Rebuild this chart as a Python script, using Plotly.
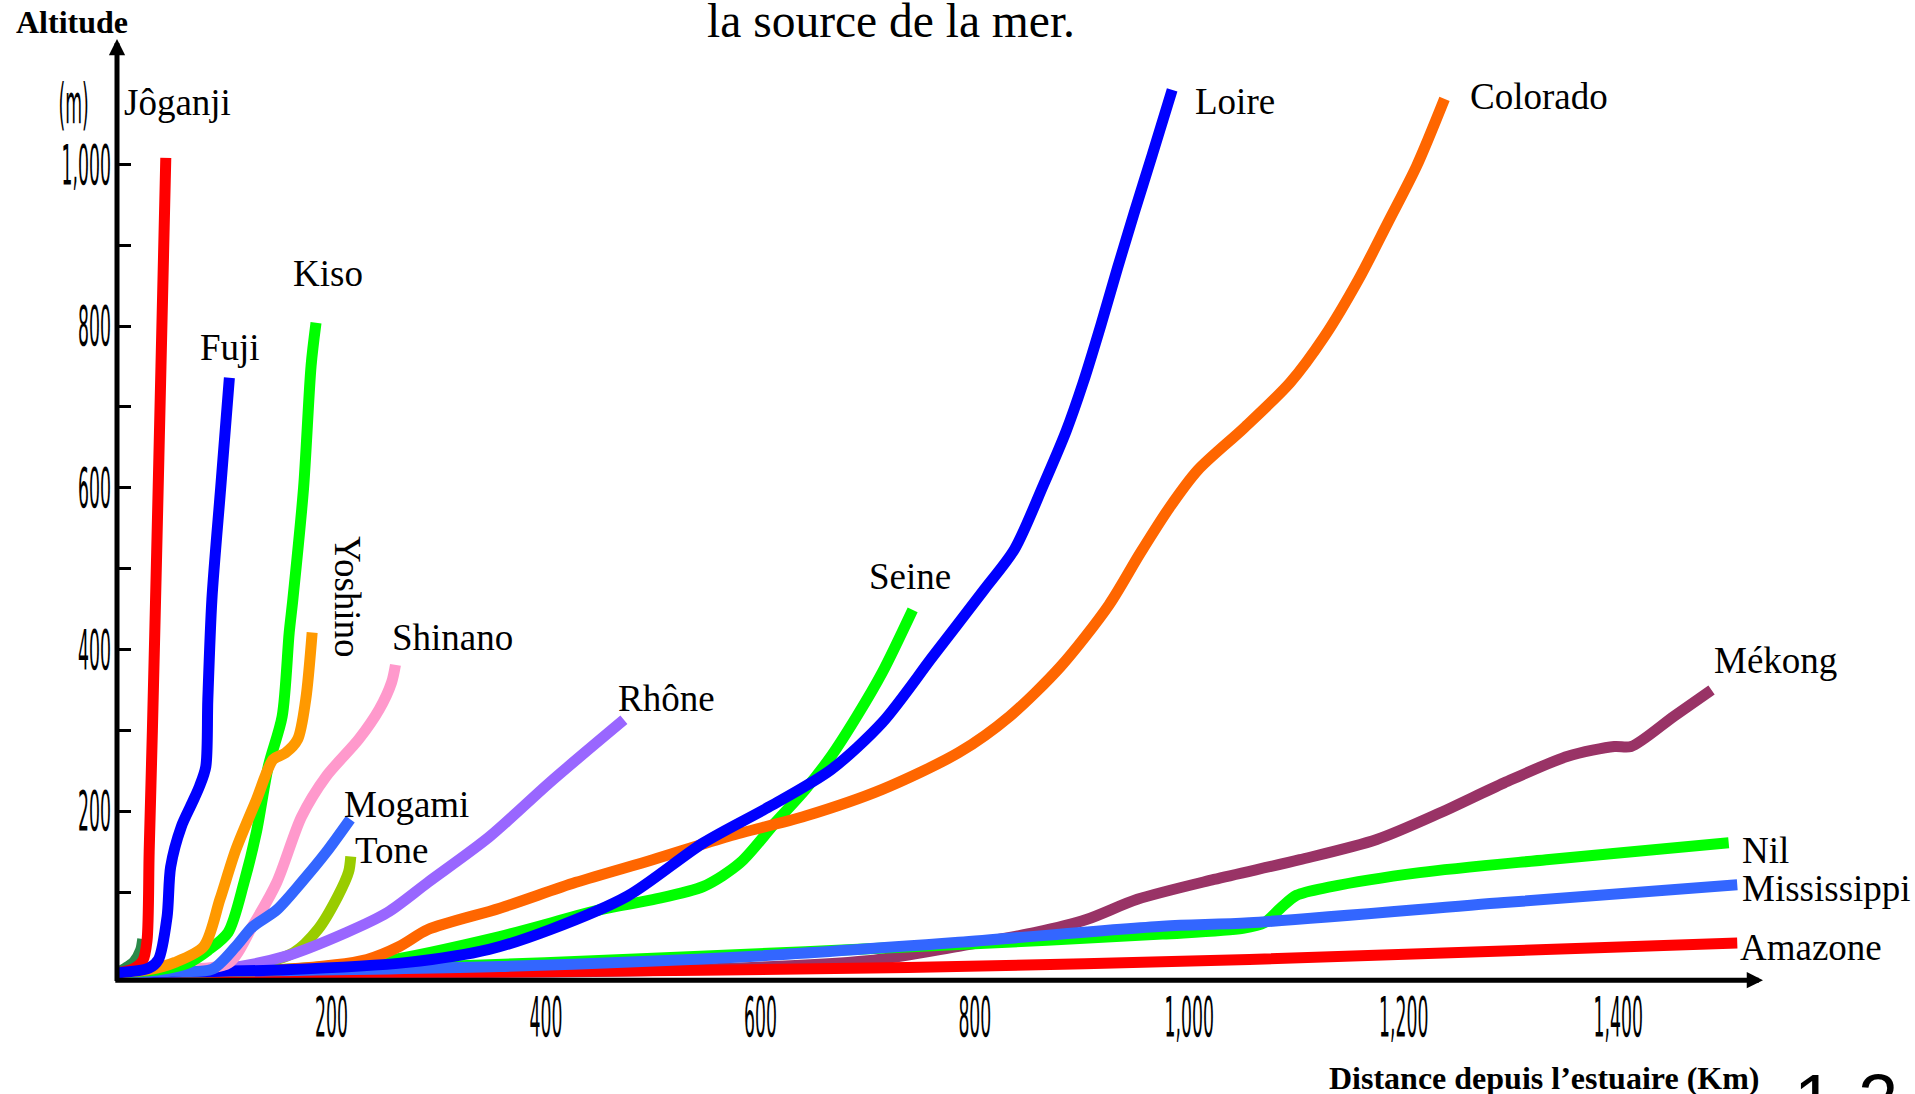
import plotly.graph_objects as go

# ── données : distance depuis l'estuaire (km) / altitude (m) ─────────────────
JOGANJI_KM = [0, 15, 24, 28, 30, 33, 37, 41, 45.5]
JOGANJI_M = [0, 5, 15, 40, 150, 300, 520, 750, 1008]

FUJI_KM = [0, 30, 38.7, 46.7, 50, 60, 70, 77, 82.8, 84.7, 88.5, 96.7, 104.8]
FUJI_M = [0, 6, 16.6, 69.5, 131, 181, 210, 231, 255, 338, 462, 600, 736]

KISO_KM = [0, 40, 66, 85, 103.6, 118.5, 130, 141, 154, 160.6, 164, 174, 181, 185.6]
KISO_M = [0, 4, 12, 28, 50, 112, 174, 255, 317, 421, 462, 600, 751, 804]

YOSHINO_KM = [0, 30, 54, 81, 96, 111, 130, 145.6, 157, 168.5, 176, 182]
YOSHINO_M = [0, 4, 13, 33, 91, 153, 214, 264, 272, 289, 338, 421]

SHINANO_KM = [0, 60, 104, 126, 149, 172, 195, 225.5, 244.6, 256, 259.7]
SHINANO_M = [0, 4, 12, 57, 112, 193, 243, 289, 326, 359, 381]

MOGAMI_KM = [0, 50, 88.6, 111, 126.4, 149, 172, 195, 217.5]
MOGAMI_M = [0, 2, 4.5, 33, 57, 78, 112, 149, 190]

TONE_KM = [0, 120, 164.6, 187.5, 206, 216, 218]
TONE_M = [0, 8, 25, 54, 95, 125, 144]

RHONE_KM = [0, 96, 157, 214, 252, 290, 347, 404, 472.7]
RHONE_M = [0, 4.5, 20.5, 50, 74.5, 112, 168, 236, 313]

SEINE_KM = [0, 150, 250, 357, 452, 499.6, 547, 581, 614, 642, 666, 690, 713.7, 742]
SEINE_M = [0, 4, 15, 45, 78.5, 90.6, 107, 136, 186, 227, 268, 317.5, 371.6, 449]

LOIRE_KM = [0, 157, 271, 347, 404, 476, 547, 609, 666, 713.7, 761, 808.7, 837,
            863.8, 885, 901, 917.4, 933, 949, 965.5, 984]
LOIRE_M = [0, 4, 13, 29, 53.6, 95, 161, 206, 251.5, 309.7, 391.7, 474, 524,
           603, 669.6, 730, 800.6, 871.6, 941.7, 1012, 1092]

COLORADO_KM = [0, 157, 233, 263.7, 290, 357, 428, 499.6, 570.6, 642, 713.7, 785,
               832.6, 880, 925, 954, 981.5, 1008, 1051, 1094, 1126, 1158, 1185,
               1212, 1238]
COLORADO_M = [0, 4.5, 16.6, 33, 53.6, 80, 112, 140, 169, 194, 227, 272.5, 317.5,
              379, 455, 518.7, 575.5, 622, 674, 730, 787, 858, 927.5, 998, 1081]

MEKONG_KM = [0, 500, 700, 785, 856.5, 904, 951.5, 1023, 1103, 1174.8, 1234,
             1293.6, 1353, 1396.4, 1412, 1452, 1487]
MEKONG_M = [0, 3, 15, 33, 50, 66, 91, 115.6, 140, 165, 198, 235, 268, 280, 280,
            317.5, 350]

NIL_KM = [0, 300, 500, 785, 975, 1050, 1070, 1085, 1100, 1130, 1214.6, 1333, 1503]
NIL_M = [0, 8, 18, 35, 48, 55, 62, 80, 96, 106, 124, 140, 161]

MISSISSIPPI_KM = [0, 357, 594.5, 785, 975, 1056, 1293.6, 1511]
MISSISSIPPI_M = [0, 8, 20.7, 37.8, 57.7, 62, 87, 109]

AMAZONE_KM = [0, 357, 737.5, 1056, 1511]
AMAZONE_M = [0, 1, 6.6, 16.6, 37]

# petit tracé vert foncé sans nom, à l'origine
SANS_NOM_KM = [0, 8, 16, 22, 24]
SANS_NOM_M = [0, 6, 14, 28, 42]

X_TICKS = [200, 400, 600, 800, 1000, 1200, 1400]
X_TICK_TEXT = ["200", "400", "600", "800", "1,000", "1,200", "1,400"]
Y_TICKS = [100, 200, 300, 400, 500, 600, 700, 800, 900, 1000]
Y_TICK_TEXT = ["", "200", "", "400", "", "600", "", "800", "", "1,000"]

# ── style ────────────────────────────────────────────────────────────────────
SERIF = "Liberation Serif, Times New Roman, serif"
NARROW = "DejaVu Sans Condensed, Liberation Sans Narrow, sans-serif"
LW = 11

# ordre de tracé : du dessous vers le dessus
rivers = [
    ("", SANS_NOM_KM, SANS_NOM_M, "#2a8a4a"),
    ("Mékong", MEKONG_KM, MEKONG_M, "#993366"),
    ("Amazone", AMAZONE_KM, AMAZONE_M, "#ff0000"),
    ("Nil", NIL_KM, NIL_M, "#00ff00"),
    ("Mississippi", MISSISSIPPI_KM, MISSISSIPPI_M, "#3366ff"),
    ("Seine", SEINE_KM, SEINE_M, "#00ff00"),
    ("Colorado", COLORADO_KM, COLORADO_M, "#ff6600"),
    ("Tone", TONE_KM, TONE_M, "#99cc00"),
    ("Rhône", RHONE_KM, RHONE_M, "#9966ff"),
    ("Loire", LOIRE_KM, LOIRE_M, "#0000ff"),
    ("Shinano", SHINANO_KM, SHINANO_M, "#ff99cc"),
    ("Mogami", MOGAMI_KM, MOGAMI_M, "#3366ff"),
    ("Kiso", KISO_KM, KISO_M, "#00ff00"),
    ("Yoshino", YOSHINO_KM, YOSHINO_M, "#ff9900"),
    ("Jôganji", JOGANJI_KM, JOGANJI_M, "#ff0000"),
    ("Fuji", FUJI_KM, FUJI_M, "#0000ff"),
]

# position des noms (bord gauche, milieu vertical) en km / m
label_pos = {
    "Jôganji": (4.7, 1076), "Kiso": (162, 865), "Fuji": (75.5, 774),
    "Shinano": (254.6, 415), "Rhône": (465, 339), "Mogami": (210, 208),
    "Tone": (220, 152), "Seine": (699, 490), "Loire": (1003.5, 1078),
    "Colorado": (1260, 1084), "Mékong": (1487.5, 386), "Nil": (1513.6, 151),
    "Mississippi": (1513.6, 104), "Amazone": (1511.7, 31),
}

fig = go.Figure()
for name, km, alt, color in rivers:
    fig.add_trace(go.Scatter(
        x=km, y=alt, mode="lines", name=name,
        line=dict(color=color, width=LW, shape="spline", smoothing=0.8),
        hoverinfo="name",
    ))

for name, (lx, ly) in label_pos.items():
    fig.add_annotation(x=lx, y=ly, text=name, showarrow=False,
                       xanchor="left", yanchor="middle",
                       font=dict(family=SERIF, size=37, color="black"))
fig.add_annotation(x=214.5, y=465, text="Yoshino", showarrow=False, textangle=90,
                   xanchor="center", yanchor="middle",
                   font=dict(family=SERIF, size=37, color="black"))

# axes fléchés
fig.add_annotation(x=0, y=1155, ax=0, ay=-12, axref="x", ayref="y",
                   showarrow=True, arrowhead=2, arrowsize=0.65, arrowwidth=5,
                   arrowcolor="black", text="")
fig.add_annotation(x=1535, y=-9, ax=-3, ay=-9, axref="x", ayref="y",
                   showarrow=True, arrowhead=2, arrowsize=0.65, arrowwidth=5,
                   arrowcolor="black", text="")

# textes
fig.add_annotation(xref="paper", yref="paper", x=0.4702, y=1.0188,
                   text="la source de la mer.", showarrow=False,
                   xanchor="center", yanchor="middle",
                   font=dict(family=SERIF, size=47.5, color="black"))
fig.add_annotation(xref="paper", yref="paper", x=-0.0623, y=1.0178,
                   text="<b>Altitude</b>", showarrow=False,
                   xanchor="left", yanchor="middle",
                   font=dict(family=SERIF, size=32, color="black"))
fig.add_annotation(xref="paper", yref="paper", x=0.867, y=-0.103,
                   text="<b>Distance depuis l’estuaire (Km)</b>", showarrow=False,
                   xanchor="center", yanchor="middle",
                   font=dict(family=SERIF, size=32, color="black"))
fig.add_annotation(xref="paper", yref="paper", x=-0.0267, y=0.9315,
                   text="(m)", showarrow=False,
                   xanchor="center", yanchor="middle",
                   font=dict(family=NARROW, size=30, color="black"))
fig.add_annotation(xref="paper", yref="paper", x=1.0176, y=-0.0817,
                   text="1-2", showarrow=False,
                   xanchor="left", yanchor="top",
                   font=dict(family="Liberation Sans, Arial, sans-serif", size=72,
                             color="black"))

fig.update_layout(
    template="none",
    width=1915, height=1094,
    margin=dict(l=117, r=152, t=39, b=113),
    paper_bgcolor="white", plot_bgcolor="white",
    showlegend=False,
    xaxis=dict(range=[0, 1535], showgrid=False, zeroline=False, showline=False,
               automargin=False, tickvals=X_TICKS, ticktext=X_TICK_TEXT,
               ticks="", ticklabelstandoff=1,
               tickfont=dict(family=NARROW, size=30, color="black")),
    yaxis=dict(range=[-10, 1155], showgrid=False, zeroline=False, showline=False,
               automargin=False, tickvals=Y_TICKS, ticktext=Y_TICK_TEXT,
               ticks="inside", ticklen=14, tickwidth=3, tickcolor="black",
               ticklabelstandoff=5,
               tickfont=dict(family=NARROW, size=30, color="black")),
)

# chiffres des axes étirés en hauteur comme sur l'original
STRETCH_JS = """
document.body.style.margin = '0';
var gd = document.getElementById('{plot_id}');
var SX = 0.64, SY = 1.83;
function stretch(t, mode) {
  var bb = t.getBBox();
  if (!bb.width) { return; }
  var ox = bb.x + bb.width / 2, oy = bb.y + bb.height / 2;
  if (mode === 'right') { ox = bb.x + bb.width; }
  if (mode === 'top') { oy = bb.y; }
  var tr = t.getAttribute('transform') || '';
  t.setAttribute('transform', tr + ' translate(' + ox + ',' + oy + ') scale(' +
    SX + ',' + SY + ') translate(' + (-ox) + ',' + (-oy) + ')');
}
gd.querySelectorAll('.ytick text').forEach(function (t) { stretch(t, 'right'); });
gd.querySelectorAll('.xtick text').forEach(function (t) { stretch(t, 'top'); });
gd.querySelectorAll('.annotation-text').forEach(function (t) {
  if (t.textContent === '(m)') { stretch(t, 'center'); }
});
"""

fig.write_html("out.html", config={"displayModeBar": False}, post_script=STRETCH_JS)
